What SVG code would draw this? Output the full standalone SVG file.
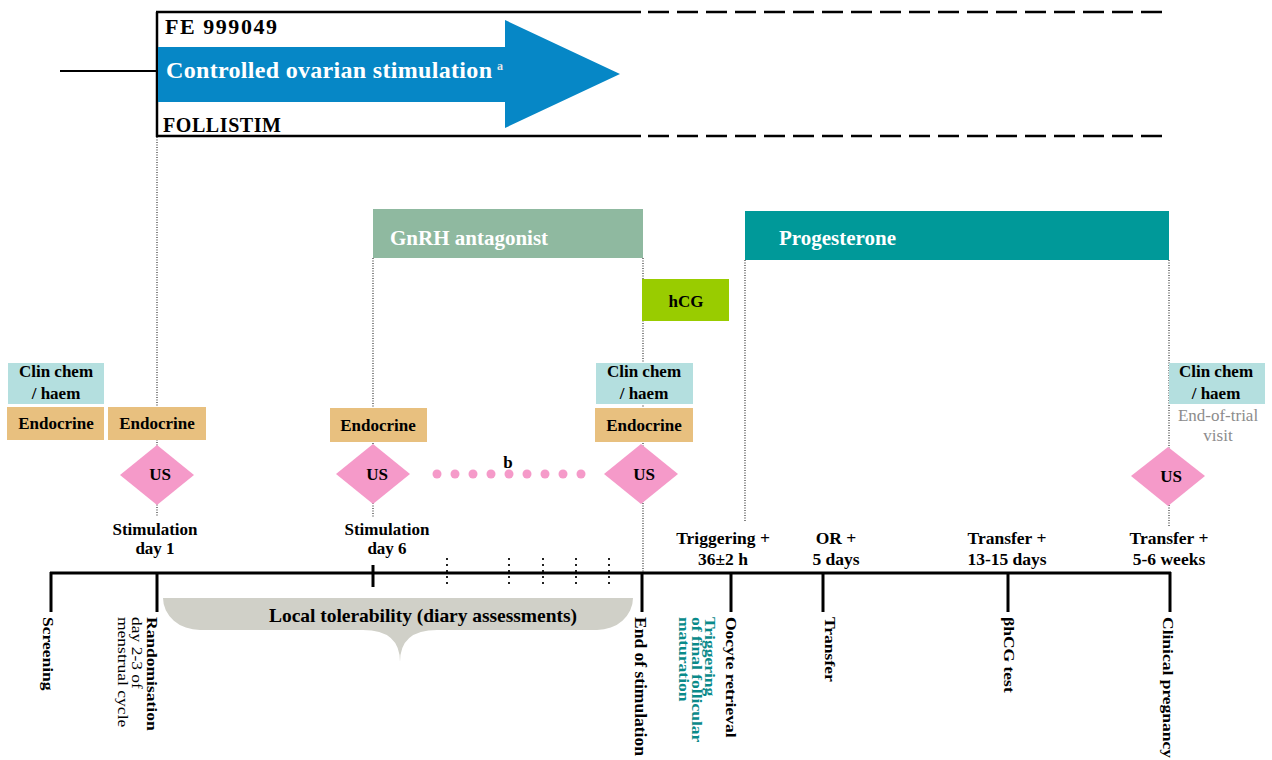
<svg xmlns="http://www.w3.org/2000/svg" width="1272" height="760" viewBox="0 0 1272 760">
<style>
text { font-family: "Liberation Serif", "Times New Roman", serif; font-weight: bold; fill: #000; }
.c { text-anchor: middle; }
.lbl { font-size: 17.5px; }
.stim { font-size: 17px; }
.bx { font-size: 17px; }
.reg { font-weight: normal; }
.wt { fill: #fff; }
.dot { stroke: #333; stroke-width: 1.2; stroke-dasharray: 1 1.5; fill: none; }
.colon { stroke: #222; stroke-width: 2; stroke-dasharray: 2 4; fill: none; }
.tick { stroke: #000; stroke-width: 3; fill: none; }
.frame { stroke: #000; stroke-width: 2.5; fill: none; }
.dash { stroke: #000; stroke-width: 2.5; stroke-dasharray: 21 8; fill: none; }
.cc { fill: #b4dfdf; }
.en { fill: #e8c07f; }
.us { fill: #f59ac9; }
.pd { fill: #f59ac9; }
.rot { font-size: 17.5px; }
.teal { fill: #0a8a8a; }
</style>

<g id="connectors">
  <line x1="60" y1="71" x2="157" y2="71" stroke="#000" stroke-width="2"/>
  <line class="dot" x1="157" y1="137" x2="157" y2="517"/>
  <line class="dot" x1="373" y1="258" x2="373" y2="517"/>
  <line class="dot" x1="643" y1="258" x2="643" y2="573"/>
  <line class="dot" x1="745" y1="260" x2="745" y2="522"/>
  <line class="dot" x1="1169" y1="260" x2="1169" y2="527"/>
  <line class="colon" x1="447" y1="558" x2="447" y2="586"/>
  <line class="colon" x1="509" y1="558" x2="509" y2="586"/>
  <line class="colon" x1="543" y1="558" x2="543" y2="586"/>
  <line class="colon" x1="576" y1="558" x2="576" y2="586"/>
  <line class="colon" x1="609" y1="558" x2="609" y2="586"/>
</g>

<g id="study-drugs">
  <line class="frame" x1="157" y1="12" x2="157" y2="137"/>
  <line class="frame" x1="156" y1="12" x2="641" y2="12"/>
  <line class="frame" x1="156" y1="136" x2="641" y2="136"/>
  <line class="dash" x1="648" y1="12" x2="1162" y2="12"/>
  <line class="dash" x1="648" y1="136" x2="1162" y2="136"/>
  <polygon points="158,47 505,47 505,20 620,74 505,128 505,102 158,102" fill="#0687c6"/>
  <text x="165" y="34" font-size="22" textLength="112">FE 999049</text>
  <text x="166" y="78" font-size="24" class="wt" textLength="326">Controlled ovarian stimulation</text>
  <text x="497" y="70" font-size="12" style="fill:#e6e6e6">a</text>
  <text x="163" y="132" font-size="20" textLength="118">FOLLISTIM</text>
</g>

<g id="gnrh-antagonist">
  <rect x="373" y="209" width="270" height="49" fill="#8fb9a0"/>
  <text x="390" y="245" font-size="21" class="wt">GnRH antagonist</text>
</g>

<g id="progesterone">
  <rect x="745" y="211" width="424" height="49" fill="#009999"/>
  <text x="779" y="245" font-size="21" class="wt">Progesterone</text>
</g>

<g id="hcg">
  <rect x="642" y="279" width="87" height="42" fill="#99cc00"/>
  <text x="686" y="307" class="bx c">hCG</text>
</g>

<g id="screening-visit">
  <rect class="cc" x="8" y="363" width="96" height="41"/>
  <text x="56" y="377" class="bx c">Clin chem</text>
  <text x="56" y="399" class="bx c">/ haem</text>
  <rect class="en" x="7" y="407" width="97" height="33"/>
  <text x="56" y="429" class="bx c">Endocrine</text>
</g>

<g id="stim-day1">
  <rect class="en" x="108" y="407" width="98" height="33"/>
  <text x="157" y="429" class="bx c">Endocrine</text>
  <polygon class="us" points="157,445 194,475 157,505 120,475"/>
  <text x="160" y="480" class="bx c">US</text>
  <text x="155" y="535" class="stim c">Stimulation</text>
  <text x="155" y="554" class="stim c">day 1</text>
</g>

<g id="stim-day6">
  <rect class="en" x="330" y="408" width="97" height="34"/>
  <text x="378" y="431" class="bx c">Endocrine</text>
  <polygon class="us" points="373,444 410,474 373,504 336,474"/>
  <text x="377" y="480" class="bx c">US</text>
  <text x="387" y="535" class="stim c">Stimulation</text>
  <text x="387" y="554" class="stim c">day 6</text>
</g>

<g id="us-repeats">
  <circle class="pd" cx="437" cy="474" r="4.5"/>
  <circle class="pd" cx="455" cy="474" r="4.5"/>
  <circle class="pd" cx="473" cy="474" r="4.5"/>
  <circle class="pd" cx="491" cy="474" r="4.5"/>
  <circle class="pd" cx="509" cy="474" r="4.5"/>
  <circle class="pd" cx="527" cy="474" r="4.5"/>
  <circle class="pd" cx="545" cy="474" r="4.5"/>
  <circle class="pd" cx="563" cy="474" r="4.5"/>
  <circle class="pd" cx="581" cy="474" r="4.5"/>
  <text x="508" y="468" class="bx c">b</text>
</g>

<g id="end-of-stimulation">
  <rect class="cc" x="596" y="363" width="97" height="41"/>
  <text x="644" y="377" class="bx c">Clin chem</text>
  <text x="644" y="399" class="bx c">/ haem</text>
  <rect class="en" x="595" y="408" width="98" height="34"/>
  <text x="644" y="431" class="bx c">Endocrine</text>
  <polygon class="us" points="641,444 678,474 641,504 604,474"/>
  <text x="644" y="480" class="bx c">US</text>
</g>

<g id="end-of-trial">
  <rect class="cc" x="1169" y="363" width="96" height="41"/>
  <text x="1216" y="377" class="bx c">Clin chem</text>
  <text x="1216" y="399" class="bx c">/ haem</text>
  <text x="1218" y="421" class="bx c reg" style="fill:#8c8c8c">End-of-trial</text>
  <text x="1218" y="441" class="bx c reg" style="fill:#8c8c8c">visit</text>
  <polygon class="us" points="1168,447 1205,476 1168,506 1131,476"/>
  <text x="1171" y="482" class="bx c">US</text>
</g>

<g id="interval-labels">
  <text x="723" y="544" class="lbl c">Triggering +</text>
  <text x="723" y="565" class="lbl c">36±2 h</text>
  <text x="836" y="544" class="lbl c">OR +</text>
  <text x="836" y="565" class="lbl c">5 days</text>
  <text x="1007" y="544" class="lbl c">Transfer +</text>
  <text x="1007" y="565" class="lbl c">13-15 days</text>
  <text x="1169" y="544" class="lbl c">Transfer +</text>
  <text x="1169" y="565" class="lbl c">5-6 weeks</text>
</g>

<g id="timeline">
  <line class="tick" x1="50" y1="573" x2="1171" y2="573"/>
  <line class="tick" x1="51" y1="572" x2="51" y2="612"/>
  <line class="tick" x1="157" y1="572" x2="157" y2="612"/>
  <line class="tick" x1="373" y1="565" x2="373" y2="587"/>
  <line class="tick" x1="642" y1="572" x2="642" y2="612"/>
  <line class="tick" x1="731" y1="572" x2="731" y2="612"/>
  <line class="tick" x1="823" y1="572" x2="823" y2="612"/>
  <line class="tick" x1="1008" y1="572" x2="1008" y2="612"/>
  <line class="tick" x1="1170" y1="572" x2="1170" y2="612"/>
</g>

<g id="local-tolerability">
  <path d="M163,598 L633,598 A36,32 0 0 1 597,630 L437,630 Q400,630 400,662 Q400,630 363,630 L200,630 A37,32 0 0 1 163,598 Z" fill="#d0d0c8"/>
  <text x="269" y="622" font-size="19.5" textLength="308">Local tolerability (diary assessments)</text>
</g>

<g id="milestones">
  <text class="rot" transform="translate(43,617) rotate(90) scale(1,0.88)">Screening</text>
  <text class="rot" transform="translate(147,617) rotate(90) scale(1,0.88)">Randomisation</text>
  <text class="rot reg" transform="translate(132,617) rotate(90) scale(1,0.85)">day 2-3 of</text>
  <text class="rot reg" transform="translate(118,617) rotate(90) scale(1,0.85)">menstrual cycle</text>
  <text class="rot" transform="translate(635,617) rotate(90) scale(1,0.9)" font-size="16">End of stimulation</text>
  <text class="rot teal" transform="translate(705,617) rotate(90) scale(1,0.8)" font-size="17">Triggering</text>
  <text class="rot teal" transform="translate(692,617) rotate(90) scale(1,0.8)" font-size="17">of final follicular</text>
  <text class="rot teal" transform="translate(679,617) rotate(90) scale(1,0.8)" font-size="17">maturation</text>
  <text class="rot" transform="translate(726,617) rotate(90) scale(1,0.88)">Oocyte retrieval</text>
  <text class="rot" transform="translate(825,617) rotate(90) scale(1,0.88)">Transfer</text>
  <text class="rot" transform="translate(1004,617) rotate(90) scale(1,0.88)">βhCG test</text>
  <text class="rot" transform="translate(1163,617) rotate(90) scale(1,0.88)">Clinical pregnancy</text>
</g>
</svg>
